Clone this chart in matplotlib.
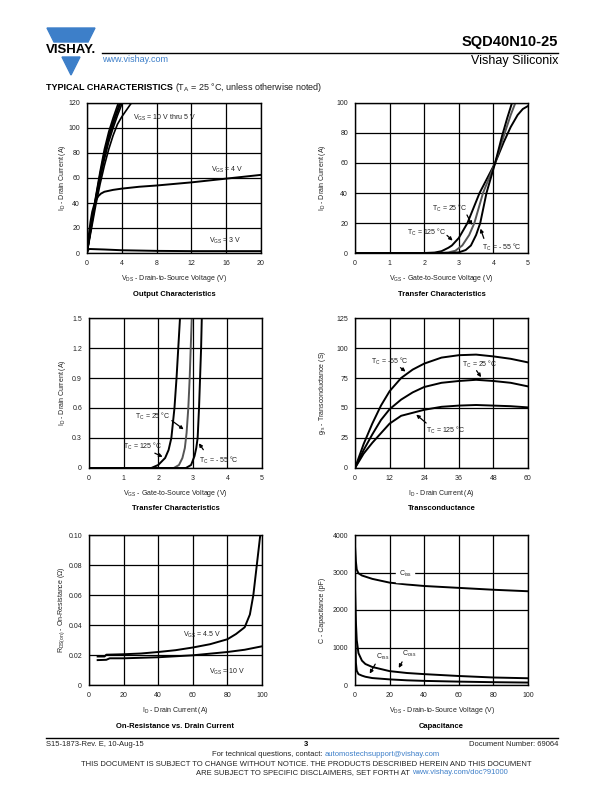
import matplotlib
matplotlib.use("Agg")
import matplotlib.pyplot as plt
from matplotlib.patches import Polygon
from matplotlib.lines import Line2D

plt.rcParams['font.family'] = ['Liberation Sans', 'DejaVu Sans']
plt.rcParams['mathtext.fontset'] = 'custom'
plt.rcParams['mathtext.rm'] = 'Liberation Sans'
plt.rcParams['mathtext.it'] = 'Liberation Sans'

W, H = 612, 792
BLUE = '#3d7fc9'
TXT = '#222222'

# ---- Output characteristics ----
vds_out = [0, 0.5, 1, 1.5, 2, 2.5, 3, 3.5, 4, 4.5, 5, 5.5]
id_vgs10 = [0, 24, 45, 65, 83, 97, 108, 118, 127]
id_vgs8 = [0, 23, 44, 63, 80, 94, 105, 115, 124]
id_vgs7 = [0, 22, 43, 61, 78, 92, 103, 113, 122]
id_vgs6 = [0, 21, 42, 59, 75, 89, 100, 110, 119, 127]
id_vgs5 = [0, 19, 38, 55, 70, 83, 94, 103, 109, 114, 119, 123]
vds_4v = [0, 0.2, 0.4, 0.6, 0.8, 1, 1.3, 1.6, 2, 3, 4, 6, 8, 12, 16, 20]
id_vgs4 = [0, 14, 25, 33, 38, 42, 45.5, 47.5, 49, 50.5, 51.5, 53, 54, 56.5, 59.5, 62.5]
vds_3v = [0, 0.1, 0.3, 2, 4, 8, 12, 16, 20]
id_vgs3 = [0, 2.5, 3.2, 2.8, 2.2, 1.7, 1.5, 1.5, 1.5]

# ---- Transfer characteristics (0-100 A) ----
vgs_125 = [0, 2.0, 2.3, 2.5, 2.7, 2.8, 3.0, 3.25, 3.6, 4.05, 4.3, 4.5, 4.7, 4.85, 5.0]
id_125 = [0, 0, 0.3, 1.2, 3.5, 5, 10, 20, 40, 60, 74, 84, 92, 96, 98]
vgs_25 = [0, 2.4, 2.7, 2.9, 3.1, 3.3, 3.45, 3.7, 4.05, 4.3, 4.5, 4.65]
id_25 = [0, 0, 0.4, 1.5, 5, 12, 20, 40, 60, 78, 92, 101]
vgs_m55 = [0, 2.7, 3.0, 3.2, 3.35, 3.5, 3.62, 3.8, 4.05, 4.25, 4.4, 4.55]
id_m55 = [0, 0, 0.4, 2, 5, 12, 20, 40, 60, 78, 90, 101]

# ---- Transfer characteristics (0-1.5 A) ----
vgs_lo_125 = [0, 1.8, 2.0, 2.2, 2.3, 2.38, 2.47, 2.53, 2.58, 2.63]
id_lo_125 = [0, 0, 0.03, 0.1, 0.18, 0.3, 0.6, 0.9, 1.2, 1.5]
vgs_lo_25 = [0, 2.45, 2.6, 2.7, 2.77, 2.82, 2.87, 2.91, 2.94, 2.97]
id_lo_25 = [0, 0, 0.03, 0.1, 0.2, 0.35, 0.6, 0.9, 1.2, 1.5]
vgs_lo_m55 = [0, 2.8, 2.95, 3.05, 3.1, 3.14, 3.18, 3.21, 3.24, 3.26]
id_lo_m55 = [0, 0, 0.03, 0.12, 0.2, 0.3, 0.6, 0.9, 1.2, 1.5]

# ---- Transconductance ----
id_gfs = [0, 3, 6, 9, 12, 16, 20, 24, 30, 36, 42, 48, 54, 60]
gfs_m55 = [0, 20, 37, 52, 64, 75, 82, 87, 92, 94, 94.5, 93, 91, 88]
gfs_25 = [0, 15, 28, 40, 49, 57, 63, 67.5, 71, 72.5, 73.5, 72.5, 71, 68]
gfs_125 = [0, 12, 21, 29, 37, 43.5, 46, 48.5, 51, 52, 52.5, 52, 51.5, 50.5]

# ---- On-resistance ----
id_rds45 = [5, 9, 10, 20, 30, 40, 50, 60, 70, 80, 85, 90, 93, 95, 97, 99]
rds_45 = [0.019, 0.019, 0.0202, 0.0205, 0.021, 0.022, 0.0232, 0.025, 0.0272,
          0.0305, 0.034, 0.0385, 0.047, 0.06, 0.08, 0.1]
id_rds10 = [5, 10, 12, 20, 40, 60, 80, 90, 100]
rds_10 = [0.0166, 0.0168, 0.0178, 0.0178, 0.0185, 0.0198, 0.022, 0.0235, 0.0258]

# ---- Capacitance ----
vds_cap = [0, 0.5, 1, 2, 4, 6, 10, 20, 30, 40, 60, 80, 100]
c_iss = [3700, 3300, 3080, 2980, 2920, 2890, 2830, 2730, 2680, 2640, 2590, 2540, 2500]
c_oss = [2600, 1700, 1200, 850, 650, 560, 480, 370, 320, 290, 240, 200, 180]
c_rss = [2000, 600, 380, 290, 250, 220, 185, 150, 125, 110, 90, 75, 65]

fig = plt.figure(figsize=(W / 100, H / 100), dpi=100)


def fx(x):
    return x / W


def fy(y):
    return 1 - y / H


def make_ax(l, t, r, b, xlim, ylim, xt, yt, xlab, title, ylab, ylab_x):
    ax = fig.add_axes([fx(l), fy(b), fx(r - l), (b - t) / H])
    ax.set_xlim(xlim)
    ax.set_ylim(ylim)
    ax.set_xticks(xt)
    ax.set_yticks(yt)
    ax.grid(True, color='black', lw=0.9)
    ax.tick_params(length=0, labelsize=5, colors=TXT, pad=5)
    for s in ax.spines.values():
        s.set_linewidth(1.0)
    cx = (l + r) / 2
    fig.text(fx(cx), fy(b + 25), xlab, ha='center', va='center', fontsize=5, color=TXT)
    fig.text(fx(cx), fy(b + 41), title, ha='center', va='center', fontsize=5.5,
             fontweight='bold', color='black')
    fig.text(fx(ylab_x), fy((t + b) / 2), ylab, ha='center', va='center', fontsize=5,
             color=TXT, rotation=90)
    return ax


lw = 1.4
lab = dict(fontsize=5, color=TXT, ha='center', va='center')
arr = dict(arrowstyle='-|>', color='black', lw=0.9, mutation_scale=5)

# Output characteristics
ax1 = make_ax(87, 103, 261, 253, (0, 20), (0, 120), [0, 4, 8, 12, 16, 20],
              [0, 20, 40, 60, 80, 100, 120],
              r'$\mathregular{V_{DS}}$ - Drain-to-Source Voltage (V)',
              'Output Characteristics', r'$\mathregular{I_D}$ - Drain Current (A)', 62)
for yy in (id_vgs10, id_vgs8, id_vgs7, id_vgs6, id_vgs5):
    ax1.plot(vds_out[:len(yy)], yy, color='black', lw=1.2)
ax1.plot(vds_4v, id_vgs4, color='black', lw=lw)
ax1.plot(vds_3v, id_vgs3, color='black', lw=lw)
ax1.text(5.3, 108, r'$\mathregular{V_{GS}}$ = 10 V thru 5 V', fontsize=5, color=TXT, va='center')
ax1.text(14.2, 66.5, r'$\mathregular{V_{GS}}$ = 4 V', fontsize=5, color=TXT, va='center')
ax1.text(14.0, 9.5, r'$\mathregular{V_{GS}}$ = 3 V', fontsize=5, color=TXT, va='center')

# Transfer characteristics
ax2 = make_ax(355, 103, 528, 253, (0, 5), (0, 100), [0, 1, 2, 3, 4, 5],
              [0, 20, 40, 60, 80, 100],
              r'$\mathregular{V_{GS}}$ - Gate-to-Source Voltage (V)',
              'Transfer Characteristics', r'$\mathregular{I_D}$ - Drain Current (A)', 322)
ax2.plot(vgs_125, id_125, color='black', lw=lw)
ax2.plot(vgs_25, id_25, color='#555555', lw=lw)
ax2.plot(vgs_m55, id_m55, color='black', lw=lw)
ax2.text(2.74, 30, r'$\mathregular{T_C}$ = 25 °C', **lab)
ax2.text(2.07, 14, r'$\mathregular{T_C}$ = 125 °C', **lab)
ax2.text(4.24, 4, r'$\mathregular{T_C}$ = - 55 °C', **lab)
ax2.annotate('', xy=(3.42, 17), xytext=(3.2, 27), arrowprops=arr)
ax2.annotate('', xy=(2.88, 7), xytext=(2.6, 13), arrowprops=arr)
ax2.annotate('', xy=(3.6, 18), xytext=(3.75, 8), arrowprops=arr)

# Transfer characteristics (low current)
ax3 = make_ax(89, 318, 262, 468, (0, 5), (0, 1.5), [0, 1, 2, 3, 4, 5],
              [0, 0.3, 0.6, 0.9, 1.2, 1.5],
              r'$\mathregular{V_{GS}}$ - Gate-to-Source Voltage (V)',
              'Transfer Characteristics', r'$\mathregular{I_D}$ - Drain Current (A)', 62)
ax3.set_yticklabels(['0', '0.3', '0.6', '0.9', '1.2', '1.5'])
ax3.plot(vgs_lo_125, id_lo_125, color='black', lw=lw)
ax3.plot(vgs_lo_25, id_lo_25, color='#555555', lw=lw)
ax3.plot(vgs_lo_m55, id_lo_m55, color='black', lw=lw)
ax3.text(1.83, 0.52, r'$\mathregular{T_C}$ = 25 °C', **lab)
ax3.text(1.54, 0.22, r'$\mathregular{T_C}$ = 125 °C', **lab)
ax3.text(3.76, 0.08, r'$\mathregular{T_C}$ = - 55 °C', **lab)
ax3.annotate('', xy=(2.8, 0.37), xytext=(2.33, 0.49), arrowprops=arr)
ax3.annotate('', xy=(2.2, 0.1), xytext=(1.83, 0.16), arrowprops=arr)
ax3.annotate('', xy=(3.13, 0.27), xytext=(3.35, 0.16), arrowprops=arr)

# Transconductance
ax4 = make_ax(355, 318, 528, 468, (0, 60), (0, 125), [0, 12, 24, 36, 48, 60],
              [0, 25, 50, 75, 100, 125],
              r'$\mathregular{I_D}$ - Drain Current (A)',
              'Transconductance', r'$\mathregular{g_{fs}}$ - Transconductance (S)', 322)
ax4.plot(id_gfs, gfs_m55, color='black', lw=lw)
ax4.plot(id_gfs, gfs_25, color='black', lw=lw)
ax4.plot(id_gfs, gfs_125, color='black', lw=lw)
ax4.text(12.1, 89, r'$\mathregular{T_C}$ = -55 °C', **lab)
ax4.text(43.2, 86, r'$\mathregular{T_C}$ = 25 °C', **lab)
ax4.text(31.5, 31.5, r'$\mathregular{T_C}$ = 125 °C', **lab)
ax4.annotate('', xy=(18.3, 79), xytext=(15, 85), arrowprops=arr)
ax4.annotate('', xy=(44.3, 73.8), xytext=(41.6, 83), arrowprops=arr)
ax4.annotate('', xy=(20.5, 46), xytext=(25.4, 36), arrowprops=arr)

# On-resistance
ax5 = make_ax(89, 535, 262, 685, (0, 100), (0, 0.10), [0, 20, 40, 60, 80, 100],
              [0, 0.02, 0.04, 0.06, 0.08, 0.10],
              r'$\mathregular{I_D}$ - Drain Current (A)',
              'On-Resistance vs. Drain Current',
              r'$\mathregular{R_{DS(on)}}$ - On-Resistance ($\Omega$)', 62)
ax5.set_yticklabels(['0', '0.02', '0.04', '0.06', '0.08', '0.10'])
ax5.plot(id_rds45, rds_45, color='black', lw=lw)
ax5.plot(id_rds10, rds_10, color='black', lw=lw)
ax5.text(65.5, 0.0336, r'$\mathregular{V_{GS}}$ = 4.5 V', **lab)
ax5.text(80, 0.0086, r'$\mathregular{V_{GS}}$ = 10 V', **lab)

# Capacitance
ax6 = make_ax(355, 535, 528, 685, (0, 100), (0, 4000), [0, 20, 40, 60, 80, 100],
              [0, 1000, 2000, 3000, 4000],
              r'$\mathregular{V_{DS}}$ - Drain-to-Source Voltage (V)',
              'Capacitance', 'C - Capacitance (pF)', 322)
ax6.plot(vds_cap, c_iss, color='black', lw=lw)
ax6.plot(vds_cap, c_oss, color='black', lw=lw)
ax6.plot(vds_cap, c_rss, color='black', lw=lw)
ax6.text(29, 2960, r'$\mathregular{C_{iss}}$', backgroundcolor='white', **lab)
ax6.text(16.2, 740, r'$\mathregular{C_{rss}}$', **lab)
ax6.text(31.5, 830, r'$\mathregular{C_{oss}}$', **lab)
ax6.annotate('', xy=(7.7, 240), xytext=(12.5, 620), arrowprops=arr)
ax6.annotate('', xy=(24.5, 390), xytext=(28, 680), arrowprops=arr)

# ---- header ----
fig.patches.append(Polygon([(fx(47), fy(28)), (fx(95), fy(28)), (fx(88), fy(42)), (fx(54), fy(42))],
                           closed=True, color=BLUE, transform=fig.transFigure))
fig.patches.append(Polygon([(fx(62), fy(57)), (fx(80), fy(57)), (fx(71), fy(75))],
                           closed=True, color=BLUE, transform=fig.transFigure))
fig.text(fx(71), fy(50), 'VISHAY.', ha='center', va='center', fontsize=9.5,
         fontweight='bold', color='black')
fig.add_artist(Line2D([fx(102), fx(558)], [fy(52.5), fy(52.5)], color='black', lw=1.0))
fig.text(fx(558), fy(42), 'SQD40N10-25', ha='right', va='center', fontsize=10.5,
         fontweight='bold', color='black')
fig.text(fx(558), fy(61), 'Vishay Siliconix', ha='right', va='center', fontsize=9,
         color='black')
fig.text(fx(102), fy(59), 'www.vishay.com', ha='left', va='center', fontsize=6.5,
         color=BLUE)
fig.text(fx(46), fy(88), 'TYPICAL CHARACTERISTICS', ha='left', va='center',
         fontsize=6.5, fontweight='heavy', color='black')
fig.text(fx(175), fy(88), r'($\mathregular{T_A}$ = 25 °C, unless otherwise noted)',
         ha='left', va='center', fontsize=6.5, color=TXT)

# ---- footer ----
fig.add_artist(Line2D([fx(46), fx(558)], [fy(738), fy(738)], color='black', lw=1.0))
fig.text(fx(46), fy(744), 'S15-1873-Rev. E, 10-Aug-15', ha='left', va='center',
         fontsize=5.5, color=TXT)
fig.text(fx(306), fy(745), '3', ha='center', va='center', fontsize=5.5,
         fontweight='bold', color='black')
fig.text(fx(558), fy(744), 'Document Number: 69064', ha='right', va='center',
         fontsize=5.5, color=TXT)
fig.text(fx(325), fy(754), 'For technical questions, contact: ', ha='right',
         va='center', fontsize=5.5, color=TXT)
fig.text(fx(325), fy(754), 'automostechsupport@vishay.com', ha='left',
         va='center', fontsize=5.5, color=BLUE)
fig.text(fx(306), fy(765), 'THIS DOCUMENT IS SUBJECT TO CHANGE WITHOUT NOTICE. '
         'THE PRODUCTS DESCRIBED HEREIN AND THIS DOCUMENT', ha='center', va='center',
         fontsize=5.5, color=TXT)
fig.text(fx(412), fy(773), 'ARE SUBJECT TO SPECIFIC DISCLAIMERS, SET FORTH AT ',
         ha='right', va='center', fontsize=5.5, color=TXT)
fig.text(fx(412), fy(773), 'www.vishay.com/doc?91000', ha='left', va='center',
         fontsize=5.5, color=BLUE)

fig.savefig('out.png', dpi=100)
